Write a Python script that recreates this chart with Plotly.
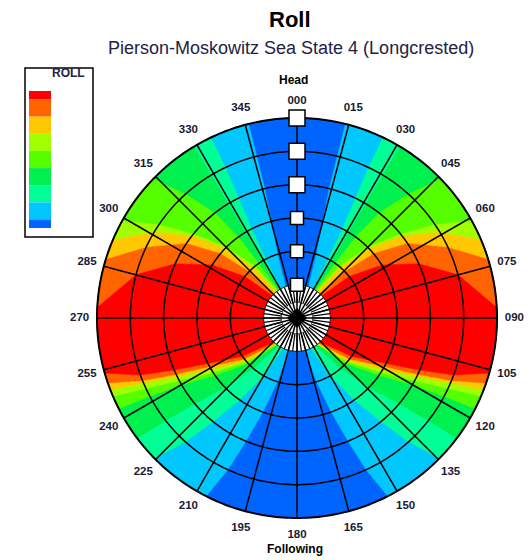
import numpy as np
import plotly.graph_objects as go

# ---------------- data ----------------
title = "Roll"
subtitle = "Pierson-Moskowitz Sea State 4 (Longcrested)"
legend_title = "ROLL"
head_label = "Head"
follow_label = "Following"

speed_rings = [0, 1, 2, 3, 4, 5]              # radial rings (speed steps)
heading_ticks = list(range(0, 360, 15))
heading_labels = [f"{h:03d}" for h in heading_ticks]

# roll bands, lowest (blue) to highest (red)
band_colors = ['#0064FF', '#00C8FF', '#00FF96', '#00F050', '#55FF00',
               '#A0FF00', '#FFC800', '#FF6400', '#FF0000']

# heading (deg, starboard side) where roll reaches each band, per speed ring:
# *_start = edge on the head-seas side, *_end = edge on the following-seas side
sky_start = [20, 17, 15, 14, 14, 14]
sky_end = [166, 163, 160, 157.5, 155.5, 153]
aqua_start = [30, 28, 27, 26, 25.5, 25.5]
aqua_end = [155, 150, 145, 141, 138, 134.5]
green_start = [32, 31, 31, 31, 31, 31]
green_end = [146, 139, 134, 130, 128, 127]
lime_start = [34, 35, 36, 38, 42, 46]
lime_end = [143, 133, 125, 120, 118, 117]
yg_start = [36, 39, 45, 51, 56, 61]
yg_end = [142, 131, 123, 118, 115, 113]
yellow_start = [38, 41, 46, 52, 59, 67]
yellow_end = [141, 130, 121, 116, 113, 111]
orange_start = [43, 46, 50, 56, 65, 73]
orange_end = [139, 128, 119, 115, 112, 109]
red_start = [48, 51.5, 58, 66, 75, 87]
red_end = [136, 125, 117, 113, 110, 106]

band_edges = [(sky_start, sky_end), (aqua_start, aqua_end), (green_start, green_end),
              (lime_start, lime_end), (yg_start, yg_end), (yellow_start, yellow_end),
              (orange_start, orange_end), (red_start, red_end)]

# ---------------- figure ----------------
# the page body keeps its default 8px margin, so the figure is drawn 8px smaller
OFF = 8
W, H = 532 - OFF, 560 - OFF
fig = go.Figure()

r_in, r_out = speed_rings[0], speed_rings[-1]
r_min, r_max = -1, r_out + 0.8          # extra room outside the rim for labels
full = np.linspace(0, 360, 361)

# base (lowest band) disk
fig.add_trace(go.Scatterpolar(r=[r_out] * len(full), theta=full, mode='lines', fill='toself',
                              fillcolor=band_colors[0], line=dict(width=0.5, color=band_colors[0]),
                              hoverinfo='skip', showlegend=False))


def band_polygon(start, end, mirror):
    n = 60
    rr = list(speed_rings) + [r_out] * n + list(speed_rings[::-1]) + [r_in] * n
    th = (list(start) + list(np.linspace(start[-1], end[-1], n)) +
          list(end[::-1]) + list(np.linspace(end[0], start[0], n)))
    if mirror:
        th = [360 - t for t in th]
    return rr, th


for k, (s, e) in enumerate(band_edges, start=1):
    for mirror in (False, True):
        rr, th = band_polygon(s, e, mirror)
        fig.add_trace(go.Scatterpolar(r=rr, theta=th, mode='lines', fill='toself',
                                      fillcolor=band_colors[k],
                                      line=dict(width=0.5, color=band_colors[k]),
                                      hoverinfo='skip', showlegend=False))

# white hub
fig.add_trace(go.Scatterpolar(r=[r_in] * len(full), theta=full, mode='lines', fill='toself',
                              fillcolor='white', line=dict(width=1, color='black'),
                              hoverinfo='skip', showlegend=False))

# hub spokes
hub_r, hub_t = [], []
for t in np.arange(0, 360, 7.5):
    hub_r += [-0.55, r_in, None]
    hub_t += [t, t, None]
fig.add_trace(go.Scatterpolar(r=hub_r, theta=hub_t, mode='lines',
                              line=dict(width=1.2, color='black'),
                              hoverinfo='skip', showlegend=False))

# grid: spokes and rings drawn over the filled bands
g_r, g_t = [], []
for t in heading_ticks:
    g_r += [-1, r_out, None]
    g_t += [t, t, None]
for ring in speed_rings[1:-1]:
    g_r += [ring] * len(full) + [None]
    g_t += list(full) + [None]
fig.add_trace(go.Scatterpolar(r=g_r, theta=g_t, mode='lines',
                              line=dict(width=1.5, color='black'),
                              hoverinfo='skip', showlegend=False))

# outer rim
fig.add_trace(go.Scatterpolar(r=[r_out] * len(full), theta=full, mode='lines',
                              line=dict(width=2, color='black'),
                              hoverinfo='skip', showlegend=False))

# centre diamond
fig.add_trace(go.Scatterpolar(r=[-1], theta=[0], mode='markers',
                              marker=dict(symbol='diamond', size=15, color='black', opacity=1),
                              hoverinfo='skip', showlegend=False))

# speed markers along heading 000
fig.add_trace(go.Scatterpolar(r=speed_rings, theta=[0] * len(speed_rings), mode='markers',
                              marker=dict(symbol='square', size=[13, 13, 13, 16, 16, 16],
                                          color='#FFFFFF', opacity=1,
                                          line=dict(color='black', width=1.5)),
                              hoverinfo='skip', showlegend=False))

# heading labels around the rim
label_r = r_out + 0.52
fig.add_trace(go.Scatterpolar(r=[label_r] * len(heading_ticks), theta=heading_ticks,
                              mode='text', text=heading_labels, cliponaxis=False,
                              textposition='middle center',
                              textfont=dict(size=11.5, color='#1a1a33', weight='bold',
                                            family='Liberation Sans, Arial, sans-serif'),
                              hoverinfo='skip', showlegend=False))


def px(x, y):
    """reference-picture pixel -> paper coordinates"""
    return (x - OFF) / W, 1 - (y - OFF) / H


# rim radius is 200px around (297, 318); scale the domain so r_out lands there
cx, cy, rim_px = 297, 318, 200
full_px = rim_px * (r_max - r_min) / (r_out - r_min)

fig.update_layout(
    width=W, height=H, autosize=False,
    margin=dict(l=0, r=0, t=0, b=0),
    paper_bgcolor='white', plot_bgcolor='white',
    font=dict(family='Liberation Sans, Arial, sans-serif', color='black'),
    polar=dict(
        domain=dict(x=[px(cx - full_px, 0)[0], px(cx + full_px, 0)[0]],
                    y=[px(0, cy + full_px)[1], px(0, cy - full_px)[1]]),
        bgcolor='rgba(0,0,0,0)',
        radialaxis=dict(range=[r_min, r_max], visible=False, showgrid=False),
        angularaxis=dict(rotation=90, direction='clockwise', tickmode='array',
                         tickvals=heading_ticks, showticklabels=False,
                         showgrid=False, ticks='', showline=False),
    ),
    showlegend=False,
)

annos = [
    dict(text=f"<b>{title}</b>", pos=(290, 20), font=dict(size=22)),
    dict(text=subtitle, pos=(291, 48), font=dict(size=18, color='#222244')),
    dict(text=f"<b>{head_label}</b>", pos=(293, 80), font=dict(size=12)),
    dict(text=f"<b>{follow_label}</b>", pos=(295, 549), font=dict(size=12)),
    dict(text=f"<b>{legend_title}</b>", pos=(68, 73), font=dict(size=12, color='#222244')),
]
for a in annos:
    x, y = px(*a.pop('pos'))
    a.update(x=x, y=y, xref='paper', yref='paper', showarrow=False,
             xanchor='center', yanchor='middle')
fig.update_layout(annotations=annos)

# legend box and swatches
shapes = [dict(type='rect', xref='paper', yref='paper',
               x0=px(25, 0)[0], x1=px(93, 0)[0], y0=px(0, 237)[1], y1=px(0, 68)[1],
               line=dict(color='black', width=1.5), fillcolor='white', layer='below')]
top, bot = 91, 228
unit = (bot - top) / (len(band_colors) - 1)
edges = [top] + [top + unit / 2 + i * unit for i in range(len(band_colors) - 1)] + [bot]
for i, col in enumerate(band_colors[::-1]):
    shapes.append(dict(type='rect', xref='paper', yref='paper',
                       x0=px(29, 0)[0], x1=px(51, 0)[0],
                       y0=px(0, edges[i + 1])[1], y1=px(0, edges[i])[1],
                       line=dict(width=0), fillcolor=col, layer='above'))
fig.update_layout(shapes=shapes)

fig.write_html("out.html")
